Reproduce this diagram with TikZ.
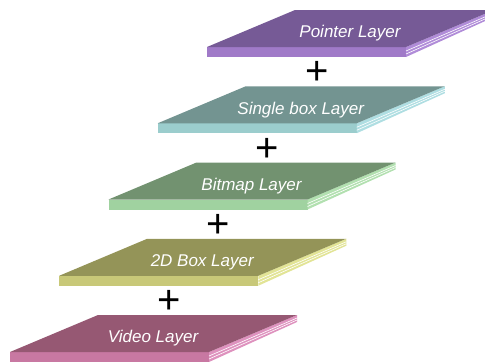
\documentclass[tikz,border=0pt]{standalone}
\usepackage{fontspec}
\setmainfont{Liberation Sans}
\definecolor{ptop}{RGB}{118,90,150}
\definecolor{pfront}{RGB}{160,122,200}
\definecolor{pside}{RGB}{176,140,216}
\definecolor{stop}{RGB}{115,148,145}
\definecolor{sfront}{RGB}{155,205,205}
\definecolor{sside}{RGB}{175,222,226}
\definecolor{btop}{RGB}{114,146,112}
\definecolor{bfront}{RGB}{160,210,160}
\definecolor{bside}{RGB}{178,224,176}
\definecolor{dtop}{RGB}{148,148,88}
\definecolor{dfront}{RGB}{200,200,120}
\definecolor{dside}{RGB}{226,228,150}
\definecolor{vtop}{RGB}{150,88,115}
\definecolor{vfront}{RGB}{200,120,162}
\definecolor{vside}{RGB}{222,146,190}
\tikzset{
  layertext/.style={text=white, font=\fontsize{17}{20}\selectfont\itshape, inner sep=0pt},
  plussign/.style={text=black, font=\fontsize{40}{44}\selectfont, inner sep=0pt},
}
\newcommand\drawlayer[6]{%
  \pgfmathsetmacro\lx{10+49.25*#1}%
  \pgfmathsetmacro\ly{352-76.25*#1}%
  \fill[#5] (\lx,\ly) -- (\lx+199,\ly) -- (\lx+199,\ly+10) -- (\lx,\ly+10) -- cycle;
  \fill[#6] (\lx+199,\ly) -- (\lx+287,\ly-37) -- (\lx+287,\ly-30) -- (\lx+199,\ly+10) -- cycle;
  \draw[white, line width=0.6pt] (\lx+199,\ly+4) -- (\lx+287,\ly-34);
  \draw[white, line width=0.6pt] (\lx+199,\ly+7) -- (\lx+287,\ly-32);
  \fill[#4] (\lx,\ly) -- (\lx+199,\ly) -- (\lx+287,\ly-37) -- (\lx+88,\ly-37) -- cycle;
  \node[layertext] (#2) at (\lx+143,\ly-13.5) {#3};
}
\newcommand\drawplus[2]{%
  \pgfmathsetmacro\lx{10+49.25*#1}%
  \pgfmathsetmacro\ly{352-76.25*#1}%
  \node[plussign] (#2) at (\lx+159,\ly-50) {+};
}
\begin{document}
\begin{tikzpicture}[x=1pt,y=-1pt]
\useasboundingbox (0,0) rectangle (485,362);
\drawlayer{4}{pointer}{Pointer Layer}{ptop}{pfront}{pside}
\drawlayer{3}{single}{Single box Layer}{stop}{sfront}{sside}
\drawlayer{2}{bitmap}{Bitmap Layer}{btop}{bfront}{bside}
\drawlayer{1}{box2d}{2D Box Layer}{dtop}{dfront}{dside}
\drawlayer{0}{video}{Video Layer}{vtop}{vfront}{vside}
\drawplus{3}{plusa}
\drawplus{2}{plusb}
\drawplus{1}{plusc}
\drawplus{0}{plusd}
\end{tikzpicture}
\end{document}
